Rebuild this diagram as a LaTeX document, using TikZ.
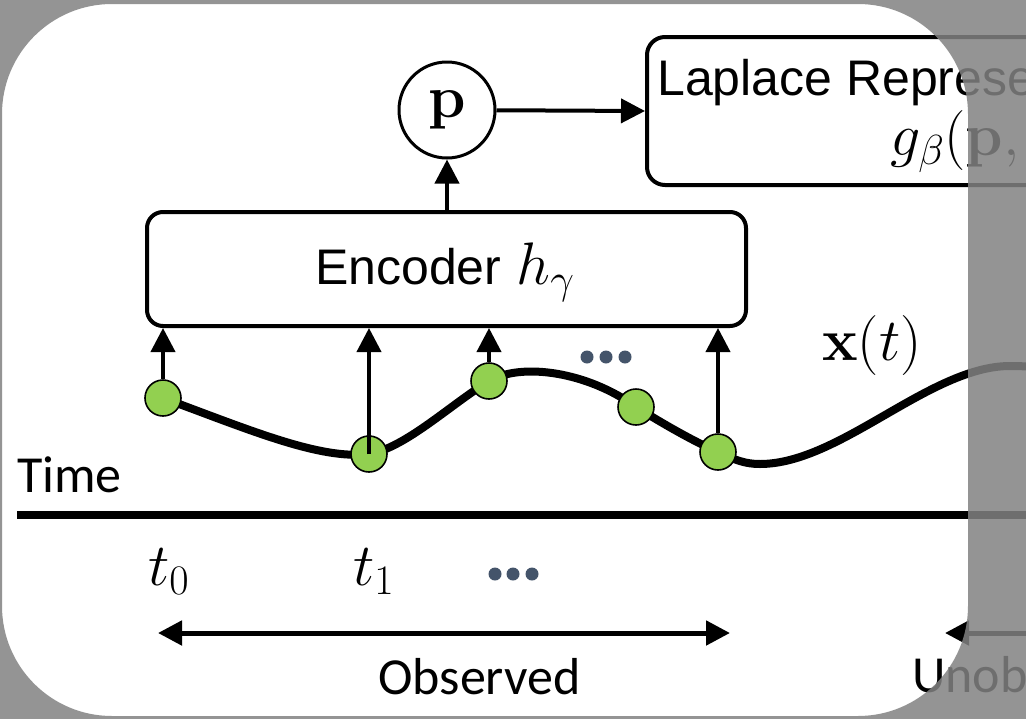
\RequirePackage{fix-cm}
\documentclass[tikz,border=0pt]{standalone}
\usepackage[no-math]{fontspec}
\newfontfamily\arialf{Liberation Sans}
\newfontfamily\calf{Carlito}
\usetikzlibrary{arrows.meta}
\definecolor{ptgreen}{HTML}{92D050}
\definecolor{dotcol}{HTML}{44546A}
\definecolor{veil}{RGB}{130,130,130}
\begin{document}
\begin{tikzpicture}[x=1pt,y=-1pt,
  arr/.style={line width=4pt,-{Triangle[length=24pt,width=24pt]}},
  boxstyle/.style={draw, line width=4pt, inner sep=0pt},
  gpt/.style={circle, fill=ptgreen, draw, line width=1.6pt, minimum size=36pt, inner sep=0pt},
  sanslbl/.style={font=\arialf\fontsize{50}{60}\selectfont, inner sep=0pt},
  callbl/.style={font=\calf\fontsize{52}{62}\selectfont, inner sep=0pt},
  mathlbl/.style={font=\fontsize{60}{72}\selectfont, inner sep=0pt},
  ddot/.style={circle, fill=dotcol, minimum size=13pt, inner sep=0pt}]

\clip (0,0) rectangle (1026,718);
\fill[white] (0,0) rectangle (1026,718);

% p node and Laplace box
\node[circle, draw, line width=3pt, minimum size=96pt, inner sep=0pt, mathlbl] (p) at (447,110) {$\mathbf{p}$};
\node[boxstyle, rounded corners=18pt, anchor=north west, minimum width=600pt, minimum height=148pt] (lap) at (645,35) {};
\node[sanslbl, anchor=base west] (lapt) at (657,95) {Laplace Representation};
\node[mathlbl, anchor=base west] (lapg) at (890,155) {$g_\beta(\mathbf{p},\mathbf{s})$};
\draw[arr] (p) -- (lap.west);

% Encoder
\node[boxstyle, rounded corners=16pt, minimum width=599pt, minimum height=114pt] (enc) at (446.5,269) {};
\node[anchor=base west, inner sep=0pt] (enct) at (315,284) {{\arialf\fontsize{50}{60}\selectfont Encoder\hspace{15pt}}{\fontsize{60}{72}\selectfont$h_\gamma$}};
\draw[arr] (enc.north -| p.south) -- (p.south);

% curve
\coordinate (c0) at (163,398);
\coordinate (c1) at (369,454);
\coordinate (c2) at (489,381);
\coordinate (c3) at (636,407);
\coordinate (c4) at (718,452);
\coordinate (cm) at (760,464);
\coordinate (cpk) at (1010,366);
\coordinate (cend) at (1070,375);
\draw[line width=8pt] (c0) .. controls (250,430) and (320,460) .. (c1)
  .. controls (405,448) and (450,405) .. (c2)
  .. controls (522,362) and (588,372) .. (c3)
  .. controls (665,425) and (695,442) .. (c4)
  .. controls (735,460) and (745,464) .. (cm)
  .. controls (840,464) and (930,366) .. (cpk)
  .. controls (1040,366) and (1055,370) .. (cend);

\node[gpt] (x0) at (c0) {};
\node[gpt] (x1) at (c1) {};
\node[gpt] (x2) at (c2) {};
\node[gpt] (x3) at (c3) {};
\node[gpt] (x4) at (c4) {};

\draw[arr] (x0.north) -- (x0.north |- enc.south);
\draw[arr] (x1.center) -- (x1.center |- enc.south);
\draw[arr] (x2.north) -- (x2.north |- enc.south);
\draw[arr] (x4.north) -- (x4.north |- enc.south);

\node[ddot] (d1) at (587,357) {};
\node[ddot] (d2) at (606,357) {};
\node[ddot] (d3) at (625,357) {};

\node[mathlbl, anchor=base west] (xt) at (822,360) {$\mathbf{x}(t)$};

% time axis
\node[callbl, anchor=base west] (time) at (17,492) {Time};
\coordinate (tlA) at (17,515);
\coordinate (tlB) at (1100,515);
\draw[line width=8pt] (tlA) -- (tlB);

\node[mathlbl, anchor=base west] (t0) at (148,585) {$t_0$};
\node[mathlbl, anchor=base west] (t1) at (353,585) {$t_1$};
\node[ddot] (e1) at (495,574) {};
\node[ddot] (e2) at (513,574) {};
\node[ddot] (e3) at (532,574) {};

\coordinate (obsL) at (158,633);
\coordinate (obsR) at (730,633);
\draw[line width=5pt, {Triangle[length=24pt,width=24pt]}-{Triangle[length=24pt,width=24pt]}] (obsL) -- (obsR);
\node[callbl, anchor=base west] (obs) at (378,694) {Observed};

\coordinate (unL) at (945,633);
\coordinate (unR) at (1100,633);
\draw[line width=5pt, {Triangle[length=24pt,width=24pt]}-] (unL) -- (unR);
\node[callbl, anchor=base west] (unobs) at (912,692) {Unobserved};

% grey veil outside the rounded card
\fill[veil, fill opacity=0.85, even odd rule] (-5,-5) rectangle (1031,723) [rounded corners=110pt] (2,4) rectangle (968,716);
\end{tikzpicture}
\end{document}
